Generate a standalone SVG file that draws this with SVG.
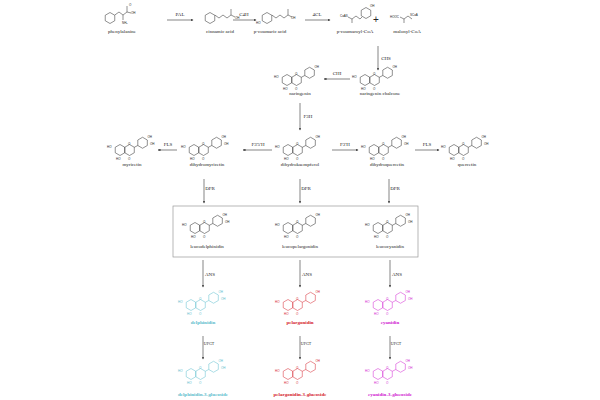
<svg xmlns="http://www.w3.org/2000/svg" xmlns:xlink="http://www.w3.org/1999/xlink" width="600" height="400" viewBox="0 0 600 400">
<style>
.t{font-family:"Liberation Serif",serif;font-size:5px;text-anchor:middle;fill:#222}
.a{font-family:"Liberation Sans",sans-serif;font-size:3px;fill:currentColor}
.e{font-family:"Liberation Serif",serif;font-size:5px;fill:#222}
.ln{stroke:#333;stroke-width:0.6;fill:none}
.s{fill:none;stroke:currentColor;stroke-width:0.5}
.cy{color:#5bbccc}.rd{color:#d4202a}.mg{color:#d020d0}.bk{color:#222}
.cy .t{fill:#5bbccc;font-weight:bold}.rd .t{fill:#d4202a;font-weight:bold}.mg .t{fill:#d020d0;font-weight:bold}
</style>
<defs>
<marker id="ar" viewBox="0 0 6 6" refX="5" refY="3" markerWidth="5" markerHeight="5" orient="auto"><path d="M0,0.8 L6,3 L0,5.2z" fill="#333"/></marker>
<path id="hex" d="M0,-5.5 L4.76,-2.75 L4.76,2.75 L0,5.5 L-4.76,2.75 L-4.76,-2.75z"/>
<g id="flav">
<use xlink:href="#hex" class="s"/>
<use xlink:href="#hex" x="9.53" class="s"/>
<path class="s" d="M14.29,-2.75 L17.8,-4.5"/>
<use xlink:href="#hex" x="22.56" y="-7.25" class="s"/>
<text class="a" x="-13" y="-2">HO</text>
<text class="a" x="-4" y="10">HO</text>
<text class="a" x="8" y="10">O</text>
<text class="a" x="8" y="-5">O</text>
<text class="a" x="27.5" y="-12">OH</text>
</g>
<g id="benz"><use xlink:href="#hex" class="s"/></g>
</defs>

<g id="connectors" class="ln">
<line x1="167" y1="20" x2="193" y2="20" marker-end="url(#ar)"/>
<line x1="233" y1="20" x2="256" y2="20" marker-end="url(#ar)"/>
<line x1="305" y1="20" x2="330" y2="20" marker-end="url(#ar)"/>
<line x1="378" y1="46" x2="378" y2="70" marker-end="url(#ar)"/>
<line x1="350" y1="79" x2="324" y2="79" marker-end="url(#ar)"/>
<line x1="300" y1="103" x2="300" y2="130" marker-end="url(#ar)"/>
<line x1="177" y1="150" x2="158" y2="150" marker-end="url(#ar)"/>
<line x1="272" y1="150" x2="243" y2="150" marker-end="url(#ar)"/>
<line x1="332" y1="150" x2="358" y2="150" marker-end="url(#ar)"/>
<line x1="415" y1="150" x2="439" y2="150" marker-end="url(#ar)"/>
<line x1="204" y1="179" x2="204" y2="203" marker-end="url(#ar)"/>
<line x1="300" y1="179" x2="300" y2="203" marker-end="url(#ar)"/>
<line x1="389" y1="179" x2="389" y2="203" marker-end="url(#ar)"/>
<line x1="203" y1="260" x2="203" y2="287" marker-end="url(#ar)"/>
<line x1="300" y1="260" x2="300" y2="287" marker-end="url(#ar)"/>
<line x1="390" y1="260" x2="390" y2="287" marker-end="url(#ar)"/>
<line x1="203" y1="336" x2="203" y2="359" marker-end="url(#ar)"/>
<line x1="300" y1="336" x2="300" y2="359" marker-end="url(#ar)"/>
<line x1="390" y1="336" x2="390" y2="359" marker-end="url(#ar)"/>
<rect x="173" y="206" width="245" height="51" fill="none" stroke="#999" stroke-width="0.7"/>
</g>
<g id="enzymes">
<text class="t" x="180" y="16">PAL</text>
<text class="t" x="244" y="16">C4H</text>
<text class="t" x="317" y="16">4CL</text>
<text class="t" x="386" y="60">CHS</text>
<text class="t" x="337" y="75">CHI</text>
<text class="t" x="308" y="118">F3H</text>
<text class="t" x="168" y="146">FLS</text>
<text class="t" x="258" y="146">F3'5'H</text>
<text class="t" x="345" y="146">F3'H</text>
<text class="t" x="427" y="146">FLS</text>
<text class="t" x="210" y="190">DFR</text>
<text class="t" x="306" y="190">DFR</text>
<text class="t" x="395" y="190">DFR</text>
<text class="t" x="210" y="276">ANS</text>
<text class="t" x="307" y="276">ANS</text>
<text class="t" x="397" y="276">ANS</text>
<text class="t" x="209" y="345" style="font-size:4px">UFGT</text>
<text class="t" x="306" y="345" style="font-size:4px">UFGT</text>
<text class="t" x="396" y="345" style="font-size:4px">UFGT</text>
<text x="376" y="23" style="font-family:'Liberation Sans',sans-serif;font-size:10px;text-anchor:middle;fill:#222">+</text>
</g>

<g id="phenylalanine" class="bk"><use xlink:href="#benz" x="110" y="18"/><path class="s" d="M114.8,15 L119,12 L123,15 L127,12 L127,6 M127,12 L131,13 M123,15 L123,20"/><text class="a" x="129" y="6">O</text><text class="a" x="131" y="14">OH</text><text class="a" x="122" y="24">NH₂</text><text class="t" x="122" y="33">phenylalanine</text></g>
<g id="cinnamic" class="bk"><use xlink:href="#benz" x="210" y="18"/><path class="s" d="M214.8,15 L219,18 L223,15 L227,18 L231,15 L231,9 M231,15 L235,17"/><text class="a" x="235" y="19">OH</text><text class="t" x="220" y="33">cinnamic acid</text></g>
<g id="coumaric" class="bk"><use xlink:href="#benz" x="267" y="18"/><path class="s" d="M271.8,15 L276,18 L280,15 L284,18 L288,15 L288,9 M288,15 L292,17"/><text class="a" x="256" y="24">HO</text><text class="a" x="291" y="19">OH</text><text class="t" x="270" y="33">p-coumaric acid</text></g>
<g id="coumaroylcoa" class="bk"><path class="s" d="M348,17 L352,19 L356,16 L360,19 L362,17 M352,19 L352,23"/><use xlink:href="#benz" x="366" y="13"/><text class="a" x="340" y="17">CoAS</text><text class="a" x="370" y="7">OH</text><text class="t" x="355" y="33">p-coumaroyl-CoA</text></g>
<g id="malonylcoa" class="bk"><path class="s" d="M400,17 L404,19 L408,16 L412,19 M404,19 L404,23"/><text class="a" x="390" y="18">HOOC</text><text class="a" x="410" y="16">SCoA</text><text class="t" x="407" y="33">malonyl-CoA</text></g>
<g id="chalcone" class="bk"><use xlink:href="#flav" x="365" y="80"/><text class="t" x="380" y="95">naringenin chalcone</text></g>
<g id="naringenin" class="bk"><use xlink:href="#flav" x="287" y="80"/><text class="t" x="300" y="95">naringenin</text></g>
<g id="myricetin" class="bk"><use xlink:href="#flav" x="120" y="150"/><text class="a" x="150" y="145">OH</text><text class="t" x="132" y="166">myricetin</text></g>
<g id="dihydromyricetin" class="bk"><use xlink:href="#flav" x="194" y="150"/><text class="a" x="224" y="145">OH</text><text class="t" x="207" y="166">dihydromyricetin</text></g>
<g id="dihydrokaempferol" class="bk"><use xlink:href="#flav" x="288" y="150"/><text class="t" x="300" y="166">dihydrokaempferol</text></g>
<g id="dihydroquercetin" class="bk"><use xlink:href="#flav" x="374" y="150"/><text class="a" x="404" y="145">OH</text><text class="t" x="387" y="166">dihydroquercetin</text></g>
<g id="quercetin" class="bk"><use xlink:href="#flav" x="454" y="150"/><text class="a" x="484" y="145">OH</text><text class="t" x="467" y="166">quercetin</text></g>
<g id="leucodelphinidin" class="bk"><use xlink:href="#flav" x="195" y="228"/><text class="a" x="225" y="223">OH</text><text class="t" x="207" y="248">leucodelphinidin</text></g>
<g id="leucopelargonidin" class="bk"><use xlink:href="#flav" x="288" y="228"/><text class="t" x="300" y="248">leucopelargonidin</text></g>
<g id="leucocyanidin" class="bk"><use xlink:href="#flav" x="378" y="228"/><text class="a" x="408" y="223">OH</text><text class="t" x="390" y="248">leucocyanidin</text></g>
<g id="delphinidin" class="cy"><use xlink:href="#flav" x="191" y="305"/><text class="a" x="221" y="300">OH</text><text class="t" x="203" y="324">delphinidin</text></g>
<g id="pelargonidin" class="rd"><use xlink:href="#flav" x="288" y="305"/><text class="t" x="300" y="324">pelargonidin</text></g>
<g id="cyanidin" class="mg"><use xlink:href="#flav" x="378" y="305"/><text class="a" x="408" y="300">OH</text><text class="t" x="390" y="324">cyanidin</text></g>
<g id="delphinidin3g" class="cy"><use xlink:href="#flav" x="191" y="374"/><text class="a" x="221" y="369">OH</text><text class="t" x="203" y="396">delphinidin-3-glucoside</text></g>
<g id="pelargonidin3g" class="rd"><use xlink:href="#flav" x="288" y="374"/><text class="t" x="300" y="396">pelargonidin-3-glucoside</text></g>
<g id="cyanidin3g" class="mg"><use xlink:href="#flav" x="378" y="374"/><text class="a" x="408" y="369">OH</text><text class="t" x="390" y="396">cyanidin-3-glucoside</text></g>
</svg>
